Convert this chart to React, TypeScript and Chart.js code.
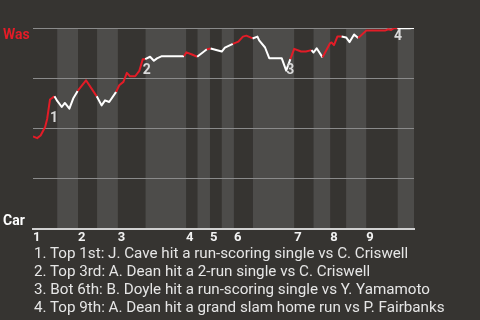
import React, { useEffect, useRef } from "react";
import { Chart, registerables } from "chart.js";

Chart.register(...registerables);

// ---- data ----
const plays = [
  0, 1.2, 2.2, 3.5, 4.1, 4.9, 6.2, 7.0, 8.3, 9.2,
  10.5, 11.6, 12.9, 15.3, 18.4, 19.8, 20.8, 22.0, 24.0, 24.9,
  26.1, 27.1, 28.0, 29.5, 30.7, 31.7, 32.4, 33.8, 34.9, 35.8,
  37.2, 43.6, 44.3, 45.9, 47.4, 50.2, 51.3, 54.5, 55.4, 57.7,
  59.3, 60.6, 61.6, 63.4, 64.8, 65.3, 67.0, 68.2, 71.8, 73.1,
  74.3, 75.4, 77.4, 78.8, 80.4, 81.0, 81.9, 83.6, 85.8, 86.2,
  86.9, 87.9, 89.1, 90.4, 91.4, 92.7, 93.9, 96.2, 101.6, 102.6,
  103.4, 104.2, 105.2, 108.7, 109.4, 110,
];
const wasWinPct = [
  46, 45.2, 46.5, 50.7, 54.9, 64.4, 66, 63.7, 60.7, 62.7,
  59.9, 64.9, 68.7, 74, 66, 61.5, 64, 63.2, 68.2, 71.5,
  73.2, 77.7, 76, 76, 78.7, 84.5, 84.5, 85.7, 83.7, 84.9,
  86, 86, 87.9, 86.8, 85.7, 89.4, 89.8, 88.3, 90.2, 92.1,
  93.2, 95.7, 96.2, 94.8, 95.7, 93.8, 90.3, 85, 85, 78.8,
  84.5, 89.6, 88.3, 88.3, 89, 87.8, 89.9, 85.4, 92.5, 92.8,
  91.5, 95.8, 95.8, 95.3, 93, 96.8, 95, 98.7, 98.7, 99.4,
  99, 99.9, 99.9, 99.9, 100, 100,
];
// start of each half inning (top 1st, bottom 1st, top 2nd, ...)
const halfInningStarts = [0, 7, 13, 18.5, 24.5, 32.5, 44.2, 47.5, 51.1, 54.5, 58, 63.5, 75.4, 81, 85.8, 90.4, 96.2, 105.3];
const gameEnd = 110;
const inningLabels = ["1", "2", "3", "4", "5", "6", "7", "8", "9"];
const awayTeam = "Was";
const homeTeam = "Car";
const eventPointIdx = [5, 25, 49, 71];
const eventMarks = ["1", "2", "3", "4"];
const eventTexts = [
  "1. Top 1st: J. Cave hit a run-scoring single vs C. Criswell",
  "2. Top 3rd: A. Dean hit a 2-run single vs C. Criswell",
  "3. Bot 6th: B. Doyle hit a run-scoring single vs Y. Yamamoto",
  "4. Top 9th: A. Dean hit a grand slam home run vs P. Fairbanks",
];

// ---- styles ----
const BG = "#363431";
const BAND = "#4d4c4a";
const RED = "#e31c27";
const WHITE = "#ffffff";
const FONT = "Roboto, 'DejaVu Sans', sans-serif";

function halfIndex(x: number) {
  let k = 0;
  for (let i = 0; i < halfInningStarts.length; i++) if (x >= halfInningStarts[i]) k = i;
  return k;
}

const wpPlugin = {
  id: "wpDecor",
  beforeDraw(chart: any) {
    const { ctx, chartArea: a, scales } = chart;
    const x = scales.x;
    ctx.save();
    ctx.fillStyle = BG;
    ctx.fillRect(0, 0, chart.width, chart.height);
    ctx.fillStyle = BAND;
    for (let i = 1; i < halfInningStarts.length; i += 2) {
      const x0 = x.getPixelForValue(halfInningStarts[i]);
      const next = i + 1 < halfInningStarts.length ? halfInningStarts[i + 1] : gameEnd;
      const x1 = x.getPixelForValue(next);
      ctx.fillRect(x0, a.top, x1 - x0, a.bottom - a.top);
    }
    ctx.restore();
  },
  afterDatasetsDraw(chart: any) {
    const { ctx, chartArea: a, scales } = chart;
    const x = scales.x;
    const y = scales.y;
    ctx.save();
    ctx.font = `bold 14px ${FONT}`;
    ctx.fillStyle = "#d9d9d9";
    ctx.textAlign = "left";
    ctx.textBaseline = "middle";
    eventPointIdx.forEach((idx, i) => {
      const px = x.getPixelForValue(plays[idx]);
      const py = Math.max(y.getPixelForValue(wasWinPct[idx - 1]), y.getPixelForValue(wasWinPct[idx]));
      ctx.fillText(eventMarks[i], px, Math.max(py, a.top + 8));
    });
    ctx.font = `bold 14px ${FONT}`;
    ctx.textBaseline = "alphabetic";
    ctx.fillStyle = RED;
    ctx.fillText(awayTeam, 3, a.top + 10.5);
    ctx.fillStyle = WHITE;
    ctx.fillText(homeTeam, 3, a.bottom - 4);
    ctx.restore();
  },
};

export default function App() {
  const ref = useRef<HTMLCanvasElement | null>(null);
  useEffect(() => {
    if (!ref.current) return;
    const chart = new Chart(ref.current, {
      type: "line",
      data: {
        datasets: [
          {
            data: plays.map((p, i) => ({ x: p, y: wasWinPct[i] })),
            borderWidth: 2,
            pointRadius: 0,
            tension: 0,
            borderJoinStyle: "round",
            borderColor: WHITE,
            segment: {
              borderColor: (c: any) => (halfIndex(c.p1.parsed.x) % 2 === 0 ? RED : WHITE),
            },
          } as any,
        ],
      },
      options: {
        animation: false,
        responsive: false,
        devicePixelRatio: 1,
        layout: { padding: { top: 28, right: 66, left: 0, bottom: 0 } },
        plugins: { legend: { display: false }, tooltip: { enabled: false } },
        scales: {
          x: {
            type: "linear",
            min: 0,
            max: gameEnd,
            grid: { display: false, drawTicks: false },
            border: { display: true, color: "#d0d0d0", width: 2 },
            afterBuildTicks: (s: any) => {
              s.ticks = halfInningStarts.filter((_, i) => i % 2 === 0).map((v) => ({ value: v }));
            },
            afterFit: (s: any) => {
              s.height = 21;
            },
            ticks: {
              autoSkip: false,
              maxRotation: 0,
              align: "start",
              padding: 1,
              color: "#f2f2f2",
              font: { family: FONT, weight: "bold", size: 13 },
              callback: (_v: any, i: number) => inningLabels[i],
            },
          },
          y: {
            min: 0,
            max: 100,
            ticks: { display: false, stepSize: 25 },
            grid: { color: "#8a8a8a", lineWidth: 1, drawTicks: false },
            border: { display: false },
            afterFit: (s: any) => {
              s.width = 33;
            },
          },
        },
      },
      plugins: [wpPlugin],
    });
    return () => chart.destroy();
  }, []);

  return (
    <div style={{ position: "fixed", left: 0, top: 0, width: 480, height: 320, background: BG, overflow: "hidden" }}>
      <canvas ref={ref} width={480} height={250} style={{ position: "absolute", left: 0, top: 0 }} />
      <div
        style={{
          position: "absolute",
          left: 34,
          top: 244,
          font: `15.2px ${FONT}`,
          lineHeight: "18px",
          color: "#e6e6e6",
          whiteSpace: "nowrap",
        }}
      >
        {eventTexts.map((t) => (
          <div key={t}>{t}</div>
        ))}
      </div>
    </div>
  );
}
